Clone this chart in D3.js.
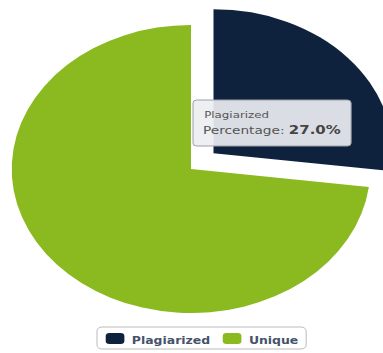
<!DOCTYPE html>
<html>
<head>
<meta charset="utf-8">
<script src="https://cdn.jsdelivr.net/npm/d3@7"></script>
<style>
  body { margin: 0; background: #fff; }
  svg { display: block; font-family: "DejaVu Sans", Verdana, sans-serif; }
</style>
</head>
<body>
<div id="chart"></div>
<script>
/* DATA */
const categories = ["Plagiarized", "Unique"];
const percentages = [27.0, 73.0];
const colors = ["#0f223d", "#8bb920"];

/* LAYOUT */
const width = 383,
  height = 353,
  cx = 191,
  cy = 169,
  radius = 144,
  stretchX = 1.245, // the original picture is wider than tall
  explode = 24;

const svg = d3.select("#chart")
  .append("svg")
  .attr("width", width)
  .attr("height", height);

const pie = d3.pie().sort(null).value(d => d)(percentages);
const arc = d3.arc().innerRadius(0).outerRadius(radius);

// pie group, stretched horizontally
const g = svg.append("g")
  .attr("transform", `translate(${cx},${cy}) scale(${stretchX},1)`);

g.selectAll("path.slice")
  .data(pie)
  .join("path")
  .attr("class", "slice")
  .attr("fill", (d, i) => colors[i])
  .attr("d", arc)
  .attr("transform", (d, i) => {
    if (i !== 0) return null;
    const mid = (d.startAngle + d.endAngle) / 2;
    return `translate(${Math.sin(mid) * explode / stretchX * 1.25},${-Math.cos(mid) * explode})`;
  });

// tooltip (same horizontal stretch as the pie)
const tip = svg.append("g").attr("transform", `translate(193,100) scale(${stretchX},1)`);
tip.append("rect")
  .attr("width", 127)
  .attr("height", 46)
  .attr("rx", 3)
  .attr("fill", "#eceef1")
  .attr("fill-opacity", 0.92)
  .attr("stroke", "#9aa0a8")
  .attr("stroke-width", 1)
  .attr("vector-effect", "non-scaling-stroke");
tip.append("text")
  .attr("x", 9).attr("y", 18)
  .attr("font-size", 9.5)
  .attr("fill", "#555")
  .text(categories[0]);
const t2 = tip.append("text")
  .attr("x", 8).attr("y", 34)
  .attr("font-size", 11)
  .attr("fill", "#555")
  .text("Percentage: ");
t2.append("tspan")
  .attr("font-weight", "bold")
  .attr("font-size", 12)
  .attr("fill", "#444")
  .text(d3.format(".1f")(percentages[0]) + "%");

// legend
const legend = svg.append("g").attr("transform", `translate(97,327) scale(${stretchX},1)`);
legend.append("rect")
  .attr("width", 168)
  .attr("height", 22)
  .attr("rx", 4)
  .attr("fill", "#fff")
  .attr("stroke", "#bbb")
  .attr("vector-effect", "non-scaling-stroke");

const itemX = [7, 101];
const items = legend.selectAll("g.item")
  .data(categories)
  .join("g")
  .attr("class", "item")
  .attr("transform", (d, i) => `translate(${itemX[i]},6)`);
items.append("rect")
  .attr("width", 15)
  .attr("height", 11)
  .attr("rx", 3)
  .attr("fill", (d, i) => colors[i]);
items.append("text")
  .attr("x", 21)
  .attr("y", 11)
  .attr("font-size", 10)
  .attr("font-weight", "bold")
  .attr("fill", "#46536a")
  .text(d => d);
</script>
</body>
</html>
